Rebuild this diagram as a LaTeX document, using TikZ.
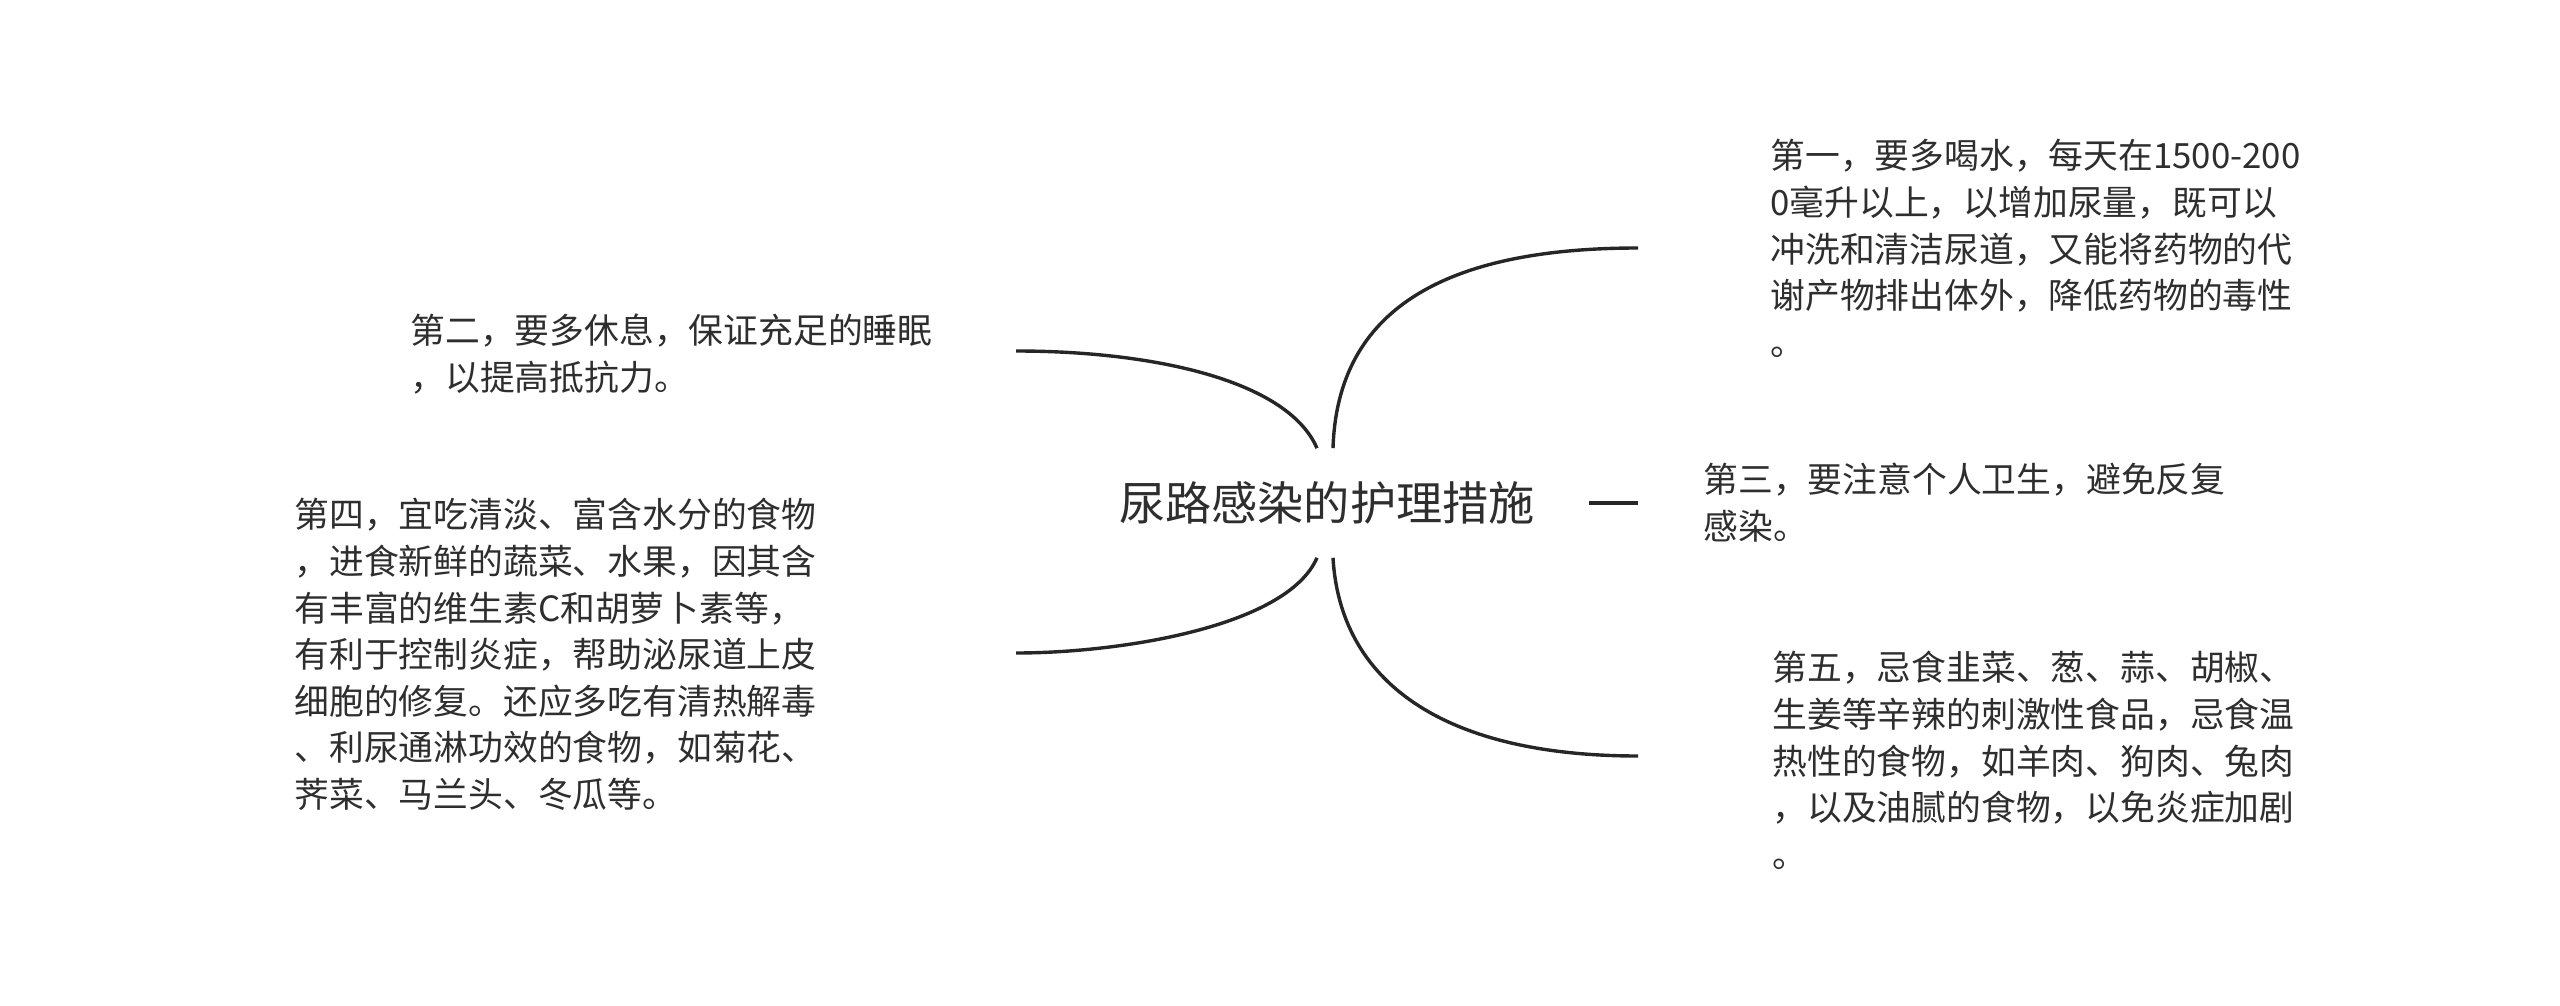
\documentclass[tikz,border=0pt]{standalone}
\usepackage{fontspec}
\newfontfamily\cjk{Noto Sans CJK SC}
\usetikzlibrary{calc}
\definecolor{ink}{HTML}{2E2E2E}
\definecolor{linec}{HTML}{262626}
\tikzset{
  leaf/.style={anchor=north west, inner sep=0pt, align=left, text=ink,
    font=\cjk\fontsize{17.4pt}{23.3pt}\selectfont},
  rootbox/.style={inner xsep=0pt, inner ysep=16.5pt, text=ink,
    font=\cjk\fontsize{23.1pt}{28pt}\selectfont},
  branch/.style={draw=linec, line width=1.7pt}
}
\begin{document}
\begin{tikzpicture}[x=0.5pt,y=-0.5pt]
\useasboundingbox (0,0) rectangle (2560,1006);
\node[rootbox] (root) at (1327,503) {尿路感染的护理措施};

\node[leaf] (n1) at (1770,139) {第一，要多喝水，每天在1500-200\\0毫升以上，以增加尿量，既可以\\冲洗和清洁尿道，又能将药物的代\\谢产物排出体外，降低药物的毒性\\。};
\node[leaf] (n2) at (410,314) {第二，要多休息，保证充足的睡眠\\，以提高抵抗力。};
\node[leaf] (n3) at (1703,463) {第三，要注意个人卫生，避免反复\\感染。};
\node[leaf] (n4) at (294,498) {第四，宜吃清淡、富含水分的食物\\，进食新鲜的蔬菜、水果，因其含\\有丰富的维生素C和胡萝卜素等，\\有利于控制炎症，帮助泌尿道上皮\\细胞的修复。还应多吃有清热解毒\\、利尿通淋功效的食物，如菊花、\\荠菜、马兰头、冬瓜等。};
\node[leaf] (n5) at (1772,651) {第五，忌食韭菜、葱、蒜、胡椒、\\生姜等辛辣的刺激性食品，忌食温\\热性的食物，如羊肉、狗肉、兔肉\\，以及油腻的食物，以免炎症加剧\\。};

\coordinate (e1) at (1638,248);
\coordinate (e2) at (1016,351);
\coordinate (e3a) at (1589,503);
\coordinate (e3) at (1638,503);
\coordinate (e4) at (1016,653);
\coordinate (e5) at (1638,756);

\coordinate (tr) at ($(root.north)+(6,0)$);
\coordinate (tl) at ($(root.north)+(-10,0)$);
\coordinate (br) at ($(root.south)+(6,0)$);
\coordinate (bl) at ($(root.south)+(-10,0)$);

\draw[branch] (tr) .. controls ($(tr)+(4,-129)$) and ($(e1)+(-208,0)$) .. (e1);
\draw[branch] (tl) .. controls ($(tl)+(-30,-69)$) and ($(e2)+(134,0)$) .. (e2);
\draw[branch] (bl) .. controls ($(bl)+(-30,69)$) and ($(e4)+(104,0)$) .. (e4);
\draw[branch] (br) .. controls ($(br)+(7,122)$) and ($(e5)+(-198,0)$) .. (e5);
\draw[branch] (e3a) -- (e3);
\end{tikzpicture}
\end{document}
